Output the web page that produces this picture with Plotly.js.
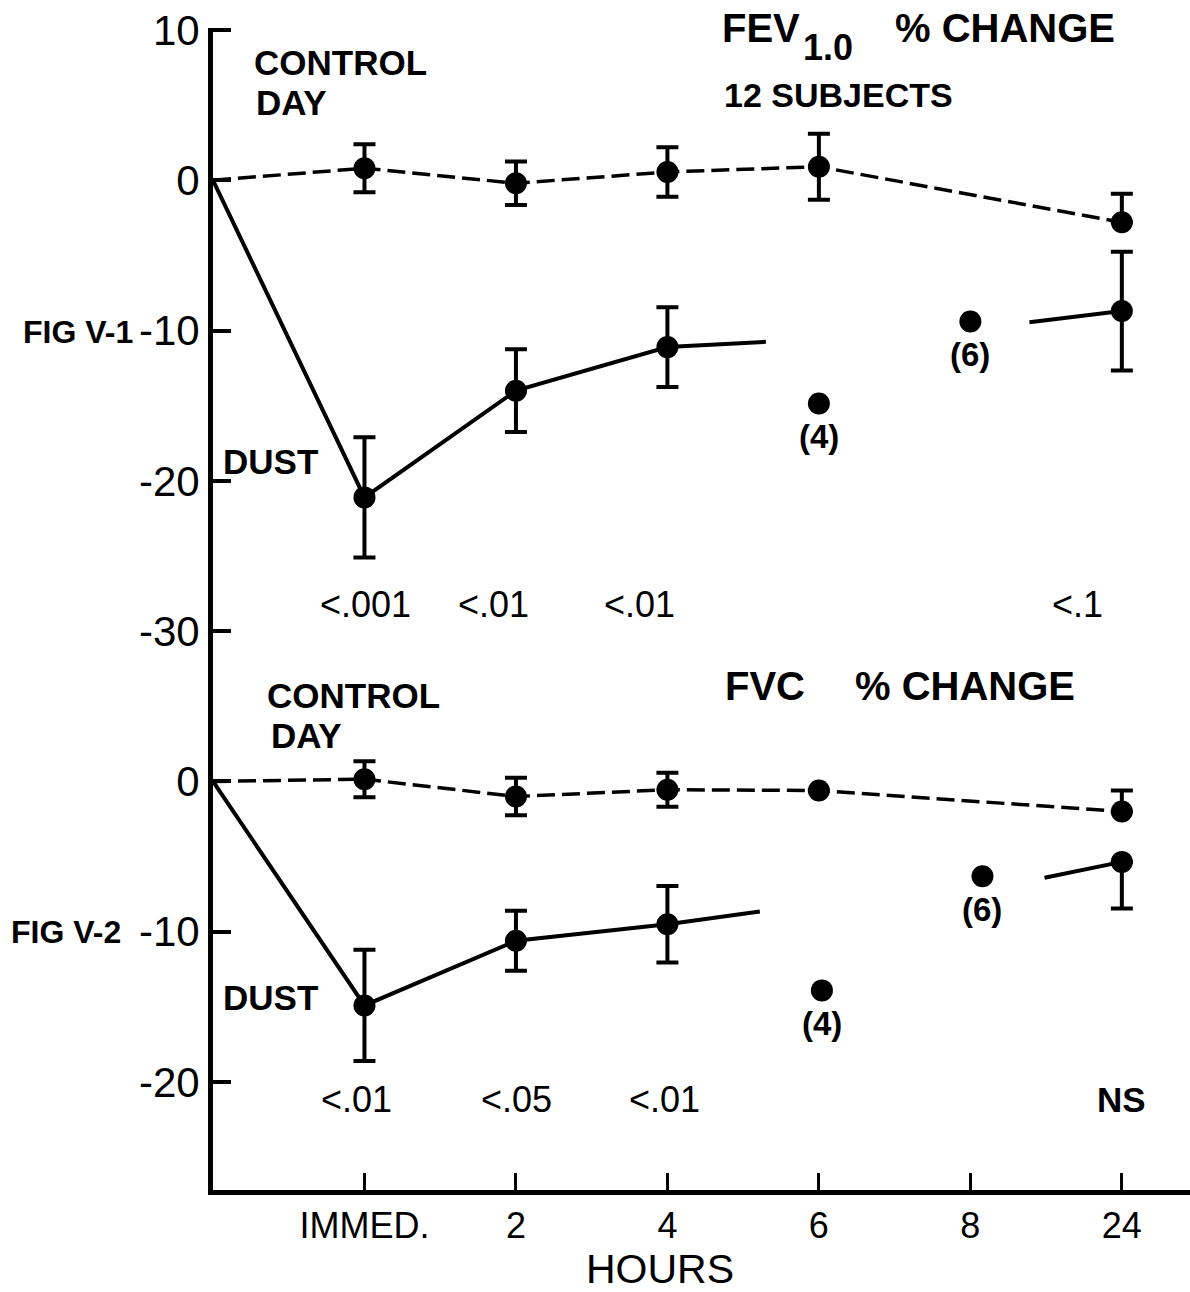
<!DOCTYPE html>
<html>
<head>
<meta charset="utf-8">
<script src="https://cdn.plot.ly/plotly-3.0.1.min.js"></script>
<style>
  html, body { margin: 0; padding: 0; background: #ffffff; }
  #chart { width: 1190px; height: 1292px; }
</style>
</head>
<body>
<div id="chart"></div>
<script>
// ---------- DATA ----------
// x positions: 1 = IMMED., 2 = 2 h, 3 = 4 h, 4 = 6 h, 5 = 8 h, 6 = 24 h ; 0 = baseline
const hourTickVals = [1, 2, 3, 4, 5, 6];
const hourTickText = ['IMMED.', '2', '4', '6', '8', '24'];

const baselineX = [0];
const baselineY = [0];

// FEV1.0 % change (upper panel)
const fevCtrlX = [1, 2, 3, 4, 6];
const fevCtrlY = [0.8, -0.2, 0.55, 0.9, -2.8];
const fevCtrlErrUp = [1.6, 1.45, 1.65, 2.2, 1.9];
const fevCtrlErrDown = [1.6, 1.45, 1.65, 2.2, 0];

const fevDustX = [1, 2, 3];
const fevDustY = [-21.1, -14.0, -11.1];
const fevDustErr = [4.0, 2.75, 2.65];
const fevDustTailX = [3.65];
const fevDustTailY = [-10.75];
const fevDustSubX = [4.0, 5.0];
const fevDustSubY = [-14.85, -9.4];
const fevDustSubN = ['(4)', '(6)'];
const fevDust24X = [5.39, 6];
const fevDust24Y = [-9.45, -8.7];
const fevDust24ErrUp = [3.95];
const fevDust24ErrDown = [3.95];
const fevPText = ['<.001', '<.01', '<.01', '<.1'];

// FVC % change (lower panel)
const fvcCtrlX = [1, 2, 3, 4, 6];
const fvcCtrlY = [0.15, -1.0, -0.55, -0.6, -2.0];
const fvcCtrlErrUp = [1.2, 1.25, 1.13, 0, 1.4];
const fvcCtrlErrDown = [1.2, 1.25, 1.13, 0, 0];

const fvcDustX = [1, 2, 3];
const fvcDustY = [-14.9, -10.6, -9.5];
const fvcDustErr = [3.7, 2.0, 2.55];
const fvcDustTailX = [3.61];
const fvcDustTailY = [-8.65];
const fvcDustSubX = [4.02, 5.08];
const fvcDustSubY = [-13.9, -6.3];
const fvcDustSubN = ['(4)', '(6)'];
const fvcDust24X = [5.49, 6];
const fvcDust24Y = [-6.4, -5.35];
const fvcDust24ErrUp = [0];
const fvcDust24ErrDown = [3.1];
const fvcPText = ['<.01', '<.05', '<.01', 'NS'];

// shared y axis: lower panel is drawn 40 units below the upper one
const FVC_OFFSET = -40;
const yTickVals = [10, 0, -10, -20, -30, -40, -50, -60];
const yTickText = ['10', '0', '-10', '-20', '-30', '0', '-10', '-20'];

// ---------- STYLE ----------
const FONT = 'Liberation Sans, Arial, Helvetica, sans-serif';
const INK = '#000000';
const MARK = 22;
const CAP = 11;
const DASH = '18px,7px';

function shift(arr, d) { return arr.map(v => v + d); }

function lineTrace(x, y, dashed) {
  return { type: 'scatter', mode: 'lines', x: x, y: y, hoverinfo: 'skip',
    line: { color: INK, width: dashed ? 3.5 : 4, dash: dashed ? DASH : 'solid' } };
}
function pointTrace(x, y, up, down) {
  const t = { type: 'scatter', mode: 'markers', x: x, y: y, hoverinfo: 'skip',
    marker: { color: INK, size: MARK } };
  if (up) {
    t.error_y = { type: 'data', symmetric: false, array: up, arrayminus: down,
      color: INK, thickness: 4, width: CAP };
  }
  return t;
}

const traces = [
  // upper panel
  lineTrace(baselineX.concat(fevCtrlX), baselineY.concat(fevCtrlY), true),
  pointTrace(fevCtrlX, fevCtrlY, fevCtrlErrUp, fevCtrlErrDown),
  lineTrace(baselineX.concat(fevDustX, fevDustTailX), baselineY.concat(fevDustY, fevDustTailY), false),
  pointTrace(fevDustX, fevDustY, fevDustErr, fevDustErr),
  pointTrace(fevDustSubX, fevDustSubY),
  lineTrace(fevDust24X, fevDust24Y, false),
  pointTrace(fevDust24X.slice(1), fevDust24Y.slice(1), fevDust24ErrUp, fevDust24ErrDown),
  // lower panel
  lineTrace(baselineX.concat(fvcCtrlX), shift(baselineY.concat(fvcCtrlY), FVC_OFFSET), true),
  pointTrace(fvcCtrlX, shift(fvcCtrlY, FVC_OFFSET), fvcCtrlErrUp, fvcCtrlErrDown),
  lineTrace(baselineX.concat(fvcDustX, fvcDustTailX), shift(baselineY.concat(fvcDustY, fvcDustTailY), FVC_OFFSET), false),
  pointTrace(fvcDustX, shift(fvcDustY, FVC_OFFSET), fvcDustErr, fvcDustErr),
  pointTrace(fvcDustSubX, shift(fvcDustSubY, FVC_OFFSET)),
  lineTrace(fvcDust24X, shift(fvcDust24Y, FVC_OFFSET), false),
  pointTrace(fvcDust24X.slice(1), shift(fvcDust24Y.slice(1), FVC_OFFSET), fvcDust24ErrUp, fvcDust24ErrDown)
];

// ---------- TEXT ----------
const L = 213, T = 28, W = 977, H = 1162;
function txt(text, px, py, size, bold, extra) {
  return Object.assign({
    xref: 'paper', yref: 'paper', x: (px - L) / W, y: (T + H - py) / H,
    xanchor: 'center', yanchor: 'middle', showarrow: false, text: text,
    font: { family: FONT, size: size, color: INK, weight: bold ? 'bold' : 'normal' }
  }, extra || {});
}
function subLabel(x, y, text) {
  return { xref: 'x', yref: 'y', x: x, y: y, yshift: -33, showarrow: false,
    xanchor: 'center', yanchor: 'middle', text: text,
    font: { family: FONT, size: 33, color: INK, weight: 'bold' } };
}

const annotations = [
  // upper panel
  txt('CONTROL', 340, 62, 35, true),
  txt('DAY', 291, 103, 35, true),
  txt('FEV', 761, 28, 40, true),
  txt('1.0', 828, 48, 36, true),
  txt('% CHANGE', 1005, 28, 40, true),
  txt('12 SUBJECTS', 838, 95, 34, true),
  txt('FIG V-1', 78, 332, 32, true),
  txt('DUST', 270, 461, 35, true),
  txt(fevPText[0], 365, 604, 36, false),
  txt(fevPText[1], 493, 604, 36, false),
  txt(fevPText[2], 639, 604, 36, false),
  txt(fevPText[3], 1077, 604, 36, false),
  subLabel(fevDustSubX[0], fevDustSubY[0], fevDustSubN[0]),
  subLabel(fevDustSubX[1], fevDustSubY[1], fevDustSubN[1]),
  // lower panel
  txt('CONTROL', 353, 695, 35, true),
  txt('DAY', 306, 735, 35, true),
  txt('FVC', 765, 686, 40, true),
  txt('% CHANGE', 965, 686, 40, true),
  txt('FIG V-2', 66, 932, 32, true),
  txt('DUST', 270, 997, 35, true),
  txt(fvcPText[0], 356, 1099, 36, false),
  txt(fvcPText[1], 516, 1099, 36, false),
  txt(fvcPText[2], 664, 1099, 36, false),
  txt(fvcPText[3], 1121, 1099, 35, true),
  subLabel(fvcDustSubX[0], fvcDustSubY[0] + FVC_OFFSET, fvcDustSubN[0]),
  subLabel(fvcDustSubX[1], fvcDustSubY[1] + FVC_OFFSET, fvcDustSubN[1]),
  // axis title
  txt('HOURS', 660, 1269, 41, false)
];

const layout = {
  width: 1190, height: 1292,
  margin: { l: L, r: 1190 - L - W, t: T, b: 1292 - T - H, pad: 0 },
  paper_bgcolor: '#ffffff', plot_bgcolor: '#ffffff',
  showlegend: false,
  font: { family: FONT, color: INK },
  xaxis: {
    range: [0, 6.45], showgrid: false, zeroline: false,
    showline: true, linecolor: INK, linewidth: 5,
    ticks: 'inside', ticklen: 17, tickwidth: 3, tickcolor: INK,
    tickmode: 'array', tickvals: hourTickVals, ticktext: hourTickText,
    tickfont: { family: FONT, size: 36, color: INK }
  },
  yaxis: {
    range: [-67.18, 10.13], showgrid: false, zeroline: false,
    showline: true, linecolor: INK, linewidth: 5,
    ticks: 'inside', ticklen: 18, tickwidth: 4, tickcolor: INK,
    tickmode: 'array', tickvals: yTickVals, ticktext: yTickText,
    tickfont: { family: FONT, size: 42, color: INK }
  },
  annotations: annotations
};

Plotly.newPlot('chart', traces, layout, { staticPlot: true, displayModeBar: false });
</script>
</body>
</html>
